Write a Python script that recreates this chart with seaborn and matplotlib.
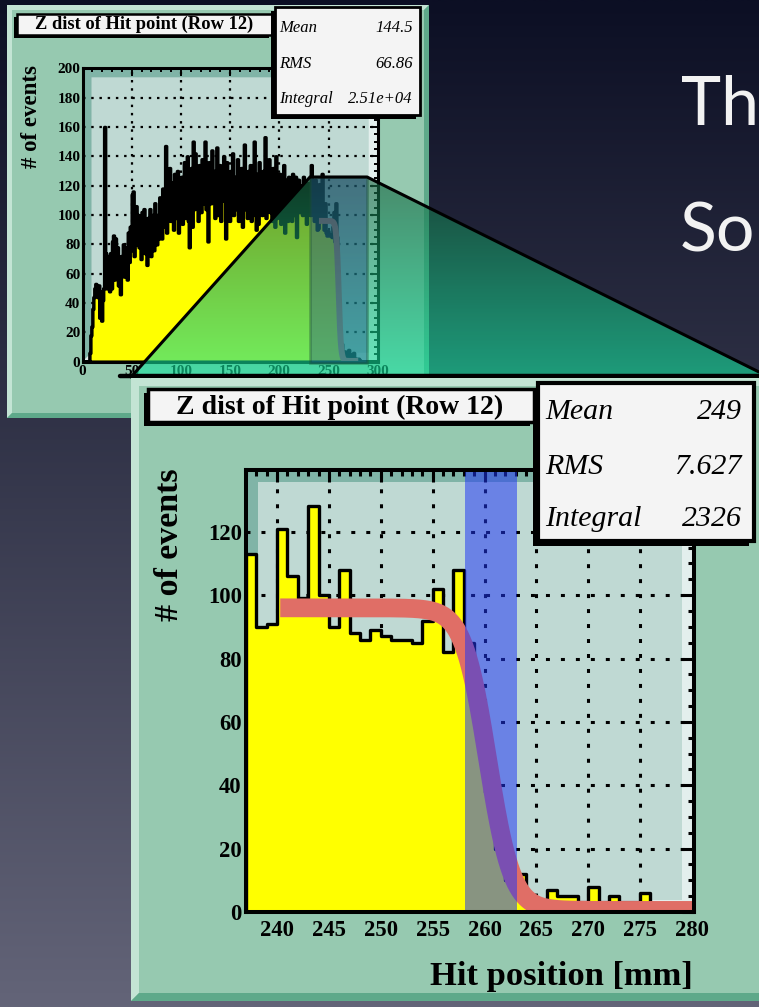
import numpy as np
import pandas as pd
import matplotlib
matplotlib.use("Agg")
import matplotlib.pyplot as plt
from matplotlib.patches import Polygon, Rectangle
from matplotlib.ticker import MultipleLocator
import seaborn as sns

W, H = 759, 1007

# ---------------- data ----------------
# overview histogram: 1 mm bins from 0 to 300 mm
overview_counts_0_236 = [
    0, 0, 0, 0, 0, 0, 0, 6, 18, 24,
    36, 44, 50, 53, 48, 44, 52, 30, 48, 28,
    42, 50, 160, 74, 50, 72, 64, 48, 74, 50,
    82, 86, 56, 84, 60, 78, 52, 68, 46, 72,
    64, 80, 58, 70, 78, 56, 88, 68, 92, 76,
    114, 116, 72, 96, 106, 80, 100, 78, 98, 70,
    102, 82, 104, 74, 94, 66, 98, 80, 104, 72,
    92, 100, 76, 108, 90, 80, 100, 84, 112, 88,
    84, 118, 92, 112, 147, 88, 124, 100, 132, 96,
    116, 122, 90, 128, 104, 98, 130, 88, 118, 106,
    126, 94, 120, 136, 98, 116, 140, 96, 78, 110,
    132, 92, 150, 104, 142, 108, 126, 96, 134, 112,
    102, 138, 108, 124, 150, 104, 128, 82, 136, 116,
    108, 144, 110, 130, 98, 126, 146, 100, 120, 134,
    96, 128, 110, 140, 116, 84, 136, 106, 124, 96,
    130, 110, 142, 100, 126, 104, 120, 138, 96, 128,
    108, 132, 92, 124, 148, 104, 122, 98, 130, 110,
    134, 96, 126, 106, 150, 100, 90, 128, 94, 136,
    104, 124, 100, 130, 110, 153, 98, 122, 108, 138,
    102, 126, 96, 132, 112, 92, 140, 98, 122, 106,
    128, 94, 120, 104, 134, 88, 118, 124, 96, 126,
    106, 122, 96, 128, 108, 100, 126, 85, 118, 124,
    102, 120, 108, 100, 126, 106, 118, 94, 122, 104,
    116, 100, 134, 106, 120, 96, 124,
]
# zoomed histogram: 1 mm bins from 237 to 281 mm
zoom_counts_237_280 = [
    113, 90, 91, 121, 106, 99, 128, 100, 90, 108,
    88, 86, 89, 87, 86, 86, 85, 92, 102, 82,
    108, 85, 62, 38, 20, 10, 12, 3, 3, 7,
    5, 5, 3, 8, 3, 5, 3, 3, 6, 2,
    2, 2, 2, 2,
]
overview_counts_281_299 = [1, 0, 0, 0, 0, 0, 0, 0, 0, 0, 0, 0, 0, 0, 0, 0, 0, 0, 0]
overview_range = (0, 300)
zoom_range = (237, 281)

stat_names = ["Mean", "RMS", "Integral"]
overview_stat_values = ["144.5", "66.86", "2.51e+04"]
zoom_stat_values = ["249", "7.627", "2326"]
title_text = "Z dist of Hit point (Row 12)"
ylabel_text = "# of events"
xlabel_text = "Hit position [mm]"
slide_words = ["Th", "So"]

# fitted edge (Fermi function) parameters
fit_amp, fit_mid, fit_width, fit_floor = 95.5, 260.3, 1.18, 0.5
fit_range = (240.3, 280.2)
band_range = (258.1, 263.1)

overview_xticks = [0, 50, 100, 150, 200, 250, 300]
overview_yticks = [0, 20, 40, 60, 80, 100, 120, 140, 160, 180, 200]
zoom_xticks = [240, 245, 250, 255, 260, 265, 270, 275, 280]
zoom_yticks = [0, 20, 40, 60, 80, 100, 120]

# ---------------- style ----------------
sns.set_theme(style="white")
plt.rcParams['font.family'] = ['Liberation Serif', 'DejaVu Serif']
plt.rcParams['font.weight'] = 'bold'
plt.rcParams['text.color'] = 'black'
plt.rcParams['xtick.color'] = 'black'
plt.rcParams['ytick.color'] = 'black'
plt.rcParams['axes.labelcolor'] = 'black'

fig = plt.figure(figsize=(W / 100, H / 100), dpi=100)


def frac(x0, y0, x1, y1):
    return [x0 / W, 1 - y1 / H, (x1 - x0) / W, (y1 - y0) / H]


def layer(z):
    ax = fig.add_axes([0, 0, 1, 1], zorder=z)
    ax.set_xlim(0, W)
    ax.set_ylim(H, 0)
    ax.set_axis_off()
    return ax


def canvas(ax, x0, y0, x1, y1, bw, fill='#96c9b0', light='#c3e4d4', dark='#5ea98a'):
    ax.add_patch(Rectangle((x0, y0), x1 - x0, y1 - y0, facecolor=fill, edgecolor='none'))
    ax.add_patch(Polygon([(x0, y1), (x0, y0), (x1, y0), (x1 - bw, y0 + bw),
                          (x0 + bw, y0 + bw), (x0 + bw, y1 - bw)],
                         closed=True, facecolor=light, edgecolor='none'))
    ax.add_patch(Polygon([(x0, y1), (x1, y1), (x1, y0), (x1 - bw, y0 + bw),
                          (x1 - bw, y1 - bw), (x0 + bw, y1 - bw)],
                         closed=True, facecolor=dark, edgecolor='none'))


def pave(ax, x0, y0, x1, y1, lw=2.0, sh=3):
    ax.add_patch(Rectangle((x0 - sh, y0 + sh), x1 - x0, y1 - y0,
                           facecolor='black', edgecolor='none'))
    ax.add_patch(Rectangle((x0, y0), x1 - x0, y1 - y0, facecolor='#f4f4f4',
                           edgecolor='black', linewidth=lw))


def fermi(x):
    return fit_floor + fit_amp / (1.0 + np.exp((x - fit_mid) / fit_width))


def hist_axes(rect, xlim, ylim, edges, counts, xt, xminor, yt, yminor,
              lw_hist, lw_spine, tick_w, maj_len, min_len, labsize, xpad, ypad,
              bevel_px, grid_lw, grid_dash, fit_lw, z):
    x0, y0, x1, y1 = rect
    ax = fig.add_axes(frac(*rect), zorder=z)
    ax.set_facecolor('#bfd9d3')
    bx, by = bevel_px / (x1 - x0), bevel_px / (y1 - y0)
    ax.add_patch(Polygon([(0, 0), (bx, by), (bx, 1 - by), (1 - bx, 1 - by), (1, 1), (0, 1)],
                         closed=True, transform=ax.transAxes, facecolor='#80b4a7',
                         edgecolor='none', zorder=0.1))
    ax.add_patch(Polygon([(0, 0), (1, 0), (1, 1), (1 - bx, 1 - by), (1 - bx, by), (bx, by)],
                         closed=True, transform=ax.transAxes, facecolor='#e3efed',
                         edgecolor='none', zorder=0.1))
    # dotted ROOT grid (under the histogram)
    for v in xt:
        if xlim[0] + 0.01 * (xlim[1] - xlim[0]) < v < xlim[1] - 0.01 * (xlim[1] - xlim[0]):
            ax.axvline(v, color='black', lw=grid_lw, ls=(0, grid_dash), zorder=0.5)
    for v in yt:
        if ylim[0] < v < ylim[1] - 0.01 * (ylim[1] - ylim[0]):
            ax.axhline(v, color='black', lw=grid_lw, ls=(0, grid_dash), zorder=0.5)
    centers = (np.asarray(edges[:-1]) + np.asarray(edges[1:])) / 2.0
    df = pd.DataFrame({"pos": centers, "count": np.asarray(counts, float)})
    sns.histplot(data=df, x="pos", weights="count", bins=list(edges), element='step',
                 fill=True, facecolor='#ffff00', edgecolor='black', linewidth=lw_hist,
                 ax=ax, zorder=1)
    xf = np.linspace(fit_range[0], fit_range[1], 400)
    sns.lineplot(x=xf, y=fermi(xf), color='#e06e66', linewidth=fit_lw, ax=ax, zorder=2)
    ax.get_lines()[-1].set_solid_capstyle('butt')
    ax.set_xticks(xt)
    ax.set_yticks(yt)
    ax.xaxis.set_minor_locator(MultipleLocator(xminor))
    ax.yaxis.set_minor_locator(MultipleLocator(yminor))
    ax.tick_params(which='both', direction='in', top=True, right=True,
                   width=tick_w, color='black', labelcolor='black')
    ax.tick_params(which='major', length=maj_len)
    ax.tick_params(which='minor', length=min_len)
    ax.tick_params(axis='x', which='major', pad=xpad, labelsize=labsize)
    ax.tick_params(axis='y', which='major', pad=ypad, labelsize=labsize)
    ax.set_axisbelow(False)
    for sp in ax.spines.values():
        sp.set_linewidth(lw_spine)
        sp.set_color('black')
        sp.set_zorder(3)
    ax.set_xlim(*xlim)
    ax.set_ylim(*ylim)
    ax.set_xlabel('')
    ax.set_ylabel('')
    ax.grid(False)
    return ax


# ---------------- slide background ----------------
bg = layer(0)
c_top = np.array([12, 15, 36]) / 255.0
c_bot = np.array([99, 100, 120]) / 255.0
t = np.linspace(0, 1, 256)[:, None, None]
bg.imshow(c_top * (1 - t) + c_bot * t, extent=(0, W, H, 0), aspect='auto',
          interpolation='bilinear')
bg.set_xlim(0, W)
bg.set_ylim(H, 0)
bg.text(681, 125, slide_words[0], fontsize=49, family=['Lato', 'DejaVu Sans'],
        fontweight='normal', color='#f2f2f2', va='baseline', ha='left')
bg.text(680, 251, slide_words[1], fontsize=49, family=['Lato', 'DejaVu Sans'],
        fontweight='normal', color='#f2f2f2', va='baseline', ha='left')

# ---------------- overview canvas ----------------
c1 = layer(1)
canvas(c1, 7, 5, 429, 418, 5)
c1.text(31.5, 117, ylabel_text, rotation=90, ha='center', va='center', fontsize=16.5)

ov_edges = np.arange(overview_range[0], overview_range[1] + 1, 1.0)
ov_counts = np.array(overview_counts_0_236 + zoom_counts_237_280 + overview_counts_281_299, float)
axs = hist_axes((82.5, 68.3, 377.7, 361.7), (0, 300), (0, 200), ov_edges, ov_counts,
                overview_xticks, 10, overview_yticks, 5,
                lw_hist=2.5, lw_spine=2.2, tick_w=1.4, maj_len=6, min_len=3,
                labsize=11, xpad=2.5, ypad=1.5, bevel_px=9,
                grid_lw=1.6, grid_dash=(1.1, 2.6), fit_lw=4.3, z=2)

c1b = layer(3)
pave(c1b, 17, 14, 272, 35, lw=1.8, sh=3)
c1b.text(144.5, 24.5, title_text, ha='center', va='center', fontsize=13.3)
pave(c1b, 275, 7, 420, 115, lw=2.0, sh=4)
for i, (nm, val) in enumerate(zip(stat_names, overview_stat_values)):
    yb = [32, 68, 103][i]
    c1b.text(279, yb, nm, ha='left', va='baseline', fontsize=12, style='italic',
             fontweight='normal')
    c1b.text(413, yb, val, ha='right', va='baseline', fontsize=12, style='italic',
             fontweight='normal')

# ---------------- zoom funnel ----------------
fl = layer(4)
funnel_pts = [(310, 177), (367, 177), (759, 372), (759, 377), (131, 377)]
clip = Polygon(funnel_pts, closed=True, facecolor='none', edgecolor='none')
fl.add_patch(clip)
n = 200
tt = np.linspace(0, 1, n)[:, None]
g_top = np.array([25, 100, 65]) / 255.0
g_bot = np.array([20, 230, 160]) / 255.0
rgba = np.concatenate([g_top * (1 - tt) + g_bot * tt, 0.62 * (1 - tt) + 0.6 * tt], axis=1)[:, None, :]
im = fl.imshow(rgba, extent=(131, 759, 377, 177), aspect='auto', interpolation='bilinear')
im.set_clip_path(clip)
fl.add_patch(Rectangle((310, 177), 57, 186, facecolor=(0.12, 0.22, 0.55), alpha=0.35,
                       edgecolor=(0.1, 0.3, 0.2), linewidth=2))
fl.plot([131, 310, 367, 759], [377, 177, 177, 372], color='black', lw=2.2,
        solid_joinstyle='miter')
fl.plot([120, 759], [376, 376], color='black', lw=3.2)
fl.set_xlim(0, W)
fl.set_ylim(H, 0)

# ---------------- zoom canvas ----------------
c2 = layer(5)
canvas(c2, 131, 378, 790, 1001, 8)
c2.text(169, 545, ylabel_text, rotation=90, ha='center', va='center', fontsize=24.5)
c2.text(693, 985, xlabel_text, ha='right', va='baseline', fontsize=24.8)

zm_edges = np.arange(zoom_range[0], zoom_range[1] + 1, 1.0)
zm_counts = np.array(zoom_counts_237_280, float)
axz = hist_axes((246, 470, 694, 912), (237, 280.2), (0, 139.5), zm_edges, zm_counts,
                zoom_xticks, 1, zoom_yticks, 5,
                lw_hist=2.4, lw_spine=2.9, tick_w=2.2, maj_len=8.6, min_len=4.3,
                labsize=16.3, xpad=6, ypad=3, bevel_px=12,
                grid_lw=2.2, grid_dash=(1.3, 3.6), fit_lw=13.5, z=6)
axz.axvspan(band_range[0], band_range[1], color=(31 / 255, 53 / 255, 246 / 255),
            alpha=0.53, lw=0, zorder=2.7)

c2b = layer(7)
pave(c2b, 148, 389, 534, 422, lw=2.5, sh=4)
c2b.text(340, 414.5, title_text, ha='center', va='baseline', fontsize=20)
pave(c2b, 538, 383, 754, 541, lw=3, sh=5)
for i, (nm, val) in enumerate(zip(stat_names, zoom_stat_values)):
    yb = [419, 474, 526][i]
    c2b.text(545, yb, nm, ha='left', va='baseline', fontsize=21.5, style='italic',
             fontweight='normal')
    c2b.text(742, yb, val, ha='right', va='baseline', fontsize=21.5, style='italic',
             fontweight='normal')

fig.savefig('out.png', dpi=100)
